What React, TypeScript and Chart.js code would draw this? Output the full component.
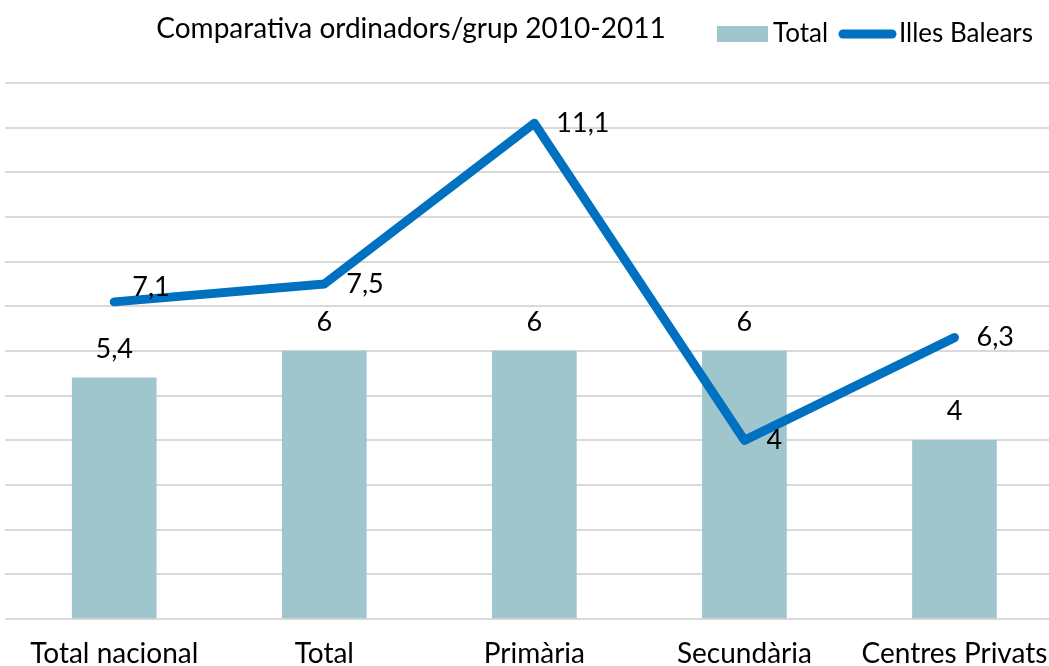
import React, { useEffect, useRef } from "react";
import { Chart, registerables } from "chart.js";

Chart.register(...registerables);

const categories = ["Total nacional", "Total", "Primària", "Secundària", "Centres Privats"];
const totalValues = [5.4, 6, 6, 6, 4];
const balearsValues = [7.1, 7.5, 11.1, 4, 6.3];
const seriesNames = ["Total", "Illes Balears"];
const titleText = "Comparativa ordinadors/grup 2010-2011";
// small vertical nudge of the line labels (Excel-style manual placement)
const lineLabelNudge = [-15, 0, 0, 0, 0];

const BAR_COLOR = "#9fc6cd";
const LINE_COLOR = "#0070c0";
const FONT = "Lato, 'Noto Sans', sans-serif";

const fmt = (v: number) => String(v).replace(".", ",");

const labelPlugin = {
  id: "customLabels",
  afterDatasetsDraw(chart: any) {
    const ctx = chart.ctx;
    ctx.save();
    ctx.fillStyle = "#000";
    ctx.font = `27px ${FONT}`;
    const barMeta = chart.getDatasetMeta(1);
    barMeta.data.forEach((el: any, i: number) => {
      ctx.textAlign = "center";
      ctx.textBaseline = "alphabetic";
      ctx.fillText(fmt(totalValues[i]), el.x, el.y - 20);
    });
    const lineMeta = chart.getDatasetMeta(0);
    lineMeta.data.forEach((el: any, i: number) => {
      ctx.textAlign = "left";
      ctx.textBaseline = "middle";
      ctx.fillText(fmt(balearsValues[i]), el.x + (i === 0 ? 18 : 22), el.y + lineLabelNudge[i]);
    });
    ctx.restore();
  },
  afterDraw(chart: any) {
    const ctx = chart.ctx;
    ctx.save();
    ctx.fillStyle = "#000";
    ctx.font = `28px ${FONT}`;
    ctx.textAlign = "center";
    ctx.textBaseline = "middle";
    ctx.fillText(titleText, 411, 29);
    ctx.fillStyle = BAR_COLOR;
    ctx.fillRect(717, 26, 51, 16);
    ctx.fillStyle = "#000";
    ctx.font = `26px ${FONT}`;
    ctx.textAlign = "left";
    ctx.textBaseline = "middle";
    ctx.fillText(seriesNames[0], 773, 34);
    ctx.strokeStyle = LINE_COLOR;
    ctx.lineWidth = 9;
    ctx.lineCap = "round";
    ctx.beginPath();
    ctx.moveTo(843, 34);
    ctx.lineTo(892, 34);
    ctx.stroke();
    ctx.fillText(seriesNames[1], 899, 34);
    ctx.restore();
  },
};

export default function App() {
  const ref = useRef<HTMLCanvasElement | null>(null);
  useEffect(() => {
    document.body.style.margin = "0";
    const canvas = ref.current;
    if (!canvas) return;
    const chart = new Chart(canvas, {
      type: "bar",
      data: {
        datasets: [
          {
            type: "line",
            label: seriesNames[1],
            data: balearsValues.map((v, i) => ({ x: i, y: v })),
            borderColor: LINE_COLOR,
            backgroundColor: LINE_COLOR,
            borderWidth: 9,
            pointRadius: 0,
            pointHoverRadius: 0,
            borderCapStyle: "round",
            borderJoinStyle: "round",
            tension: 0,
            order: 0,
          } as any,
          {
            type: "bar",
            label: seriesNames[0],
            data: totalValues.map((v, i) => ({ x: i, y: v })),
            backgroundColor: BAR_COLOR,
            barThickness: 84,
            order: 1,
          } as any,
        ],
      },
      options: {
        responsive: false,
        animation: false,
        devicePixelRatio: 1,
        layout: { padding: { left: 5, right: 0, top: 83, bottom: 0 } },
        plugins: {
          legend: { display: false },
          title: { display: false },
          tooltip: { enabled: false },
        },
        scales: {
          x: {
            type: "linear",
            min: -0.52,
            max: 4.45,
            offset: false,
            grid: { display: false },
            border: { display: false },
            ticks: {
              color: "#000",
              font: { family: FONT, size: 28 },
              padding: 10,
              maxRotation: 0,
              autoSkip: false,
              callback: (v: any) => categories[v] ?? "",
            },
            afterBuildTicks: (s: any) => {
              s.ticks = categories.map((_, i) => ({ value: i }));
            },
            afterFit: (s: any) => {
              s.height = 47;
              s.paddingLeft = 0;
              s.paddingRight = 0;
            },
          },
          y: {
            min: 0,
            max: 12,
            ticks: { display: false, stepSize: 1 },
            grid: { color: "#d9d9d9", lineWidth: 2, drawTicks: false },
            border: { display: false },
            afterFit: (s: any) => {
              s.width = 0;
            },
          },
        },
      } as any,
      plugins: [labelPlugin],
    });
    return () => chart.destroy();
  }, []);
  return (
    <div style={{ width: 1049, height: 666 }}>
      <canvas ref={ref} width={1049} height={666} style={{ display: "block" }} />
    </div>
  );
}
